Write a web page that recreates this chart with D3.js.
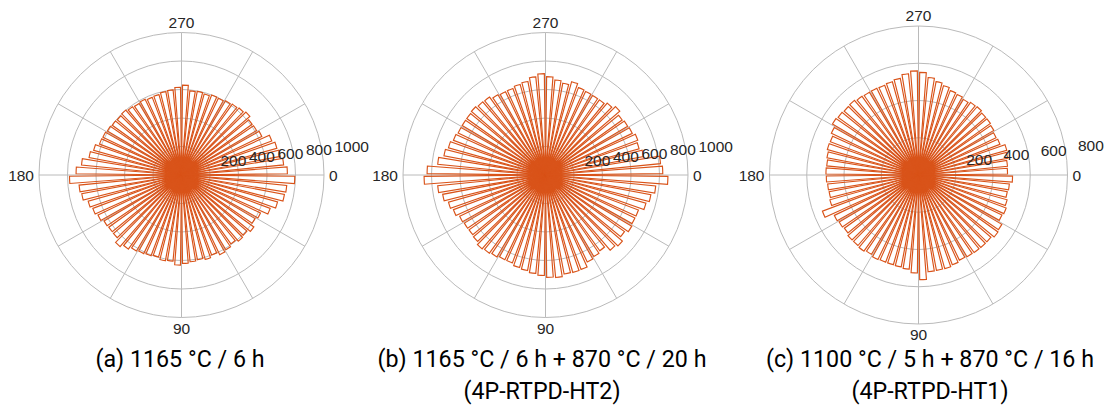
<!DOCTYPE html>
<html><head><meta charset="utf-8">
<script src="https://cdn.jsdelivr.net/npm/d3@7"></script>
<style>body{margin:0;background:#fff} svg{display:block}</style>
</head><body>
<svg id="chart" width="1114" height="405"></svg>
<script>
// bin centres in degrees (clockwise from the right, 90 at the bottom)
const binCenters = d3.range(72).map(i => 2.5 + 5 * i);

const valuesA = [795, 742, 735, 700, 665, 615, 600, 625, 605, 612, 595, 610, 620, 600, 615, 605, 612, 620,
  632, 607, 612, 598, 606, 612, 620, 640, 662, 630, 628, 632, 650, 665, 680, 712, 722, 786,
  740, 705, 660, 640, 615, 612, 605, 598, 595, 600, 590, 584, 590, 582, 586, 595, 600, 616,
  631, 593, 597, 590, 600, 598, 606, 612, 620, 632, 610, 612, 625, 677, 695, 705, 720, 743];

const valuesB = [859, 777, 752, 732, 697, 696, 704, 682, 711, 696, 654, 665, 677, 708, 710, 707, 723, 718,
  705, 694, 682, 674, 659, 659, 668, 675, 683, 666, 660, 662, 668, 690, 707, 734, 760, 852,
  831, 760, 725, 707, 690, 680, 680, 680, 685, 676, 673, 655, 648, 649, 660, 668, 692, 711,
  690, 670, 655, 680, 655, 650, 648, 649, 665, 687, 662, 670, 675, 692, 682, 700, 811, 823];

const valuesC = [505, 490, 485, 494, 503, 497, 520, 525, 513, 513, 512, 510, 507, 515, 522, 521, 522, 562,
  526, 508, 502, 500, 500, 503, 495, 503, 499, 499, 490, 495, 501, 551, 494, 488, 490, 495,
  497, 495, 500, 508, 506, 519, 537, 531, 526, 528, 520, 517, 517, 515, 520, 528, 546, 559,
  551, 526, 510, 498, 484, 480, 472, 480, 483, 475, 475, 470, 462, 467, 492, 487, 480, 478];

const thetaTicks = [0, 90, 180, 270];
const spokeAngles = d3.range(0, 360, 30);
const rTicksAB = [200, 400, 600, 800, 1000];
const rTicksC = [200, 400, 600, 800];

const titlesA = ["(a) 1165 °C / 6 h"];
const titlesB = ["(b) 1165 °C / 6 h + 870 °C / 20 h", "(4P-RTPD-HT2)"];
const titlesC = ["(c) 1100 °C / 5 h + 870 °C / 16 h", "(4P-RTPD-HT1)"];

const panels = [
  {values: valuesA, rTicks: rTicksAB, rMax: 1000, cx: 181.5, cy: 175, R: 142.5, titles: titlesA, tx: 180},
  {values: valuesB, rTicks: rTicksAB, rMax: 1000, cx: 545.5, cy: 175, R: 142.5, titles: titlesB, tx: 542},
  {values: valuesC, rTicks: rTicksC, rMax: 800, cx: 918.5, cy: 175, R: 149, titles: titlesC, tx: 930}
];

const svg = d3.select("#chart");
const orange = "#D95319";
const gridColor = "#bababa";
const tickFont = "'Liberation Sans', Arial, sans-serif";
const rad = d => d * Math.PI / 180;
const barWidthDeg = 3.7;

panels.forEach(p => {
  const g = svg.append("g").attr("transform", `translate(${p.cx},${p.cy})`);
  const r = d3.scaleLinear().domain([0, p.rMax]).range([0, p.R]);

  // grid circles
  g.selectAll("circle.grid").data(p.rTicks).join("circle")
    .attr("r", d => r(d)).attr("fill", "none")
    .attr("stroke", gridColor).attr("stroke-width", 1);
  // spokes
  g.selectAll("line.spoke").data(spokeAngles).join("line")
    .attr("x1", 0).attr("y1", 0)
    .attr("x2", d => p.R * Math.cos(rad(d)))
    .attr("y2", d => p.R * Math.sin(rad(d)))
    .attr("stroke", gridColor).attr("stroke-width", 1);

  // bars
  const arc = d3.arc().innerRadius(0);
  g.selectAll("path.bar").data(binCenters.map((c, i) => ({c, v: p.values[i]}))).join("path")
    .attr("d", d => arc({
      outerRadius: r(d.v),
      startAngle: rad(d.c - barWidthDeg / 2 + 90),
      endAngle: rad(d.c + barWidthDeg / 2 + 90)
    }))
    .attr("fill", "none").attr("stroke", orange).attr("stroke-width", 1.15)
    .attr("stroke-linejoin", "miter");

  // theta labels
  const off = 5;
  g.selectAll("text.theta").data(thetaTicks).join("text")
    .attr("x", d => (p.R + off) * Math.cos(rad(d)))
    .attr("y", d => (p.R + off) * Math.sin(rad(d)))
    .attr("text-anchor", d => d === 0 ? "start" : d === 180 ? "end" : "middle")
    .attr("dominant-baseline", d => d === 90 ? "hanging" : d === 270 ? "alphabetic" : "central")
    .attr("font-family", tickFont).attr("font-size", 15.5).attr("fill", "#262626")
    .text(d => d);

  // r labels
  g.selectAll("text.rlab").data(p.rTicks).join("text")
    .attr("x", d => r(d) + 10.5)
    .attr("y", d => -11 - 0.125 * r(d))
    .attr("dominant-baseline", "central")
    .attr("font-family", tickFont).attr("font-size", 15.5).attr("fill", "#262626")
    .text(d => d);

  // titles
  svg.selectAll(null).data(p.titles).join("text")
    .attr("transform", (d, i) => `translate(${p.tx},${367 + 32 * i}) scale(0.95,1)`)
    .attr("text-anchor", "middle")
    .attr("font-family", "Roboto, sans-serif").attr("font-size", 24.5).attr("fill", "#000")
    .text(d => d);
});
</script>
</body></html>
